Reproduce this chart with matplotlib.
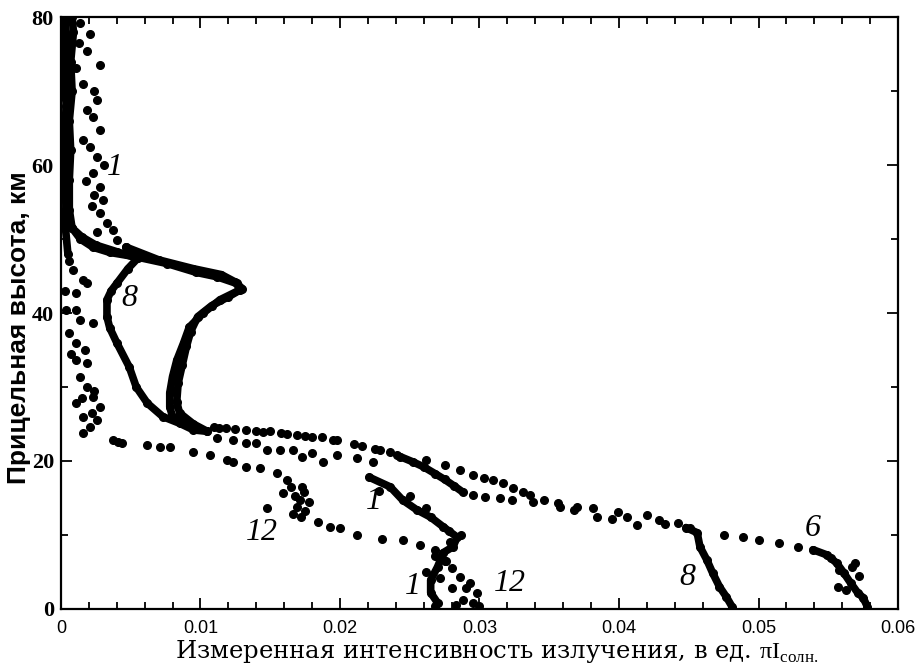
import numpy as np
import matplotlib
matplotlib.use('Agg')
import matplotlib.pyplot as plt
from matplotlib.ticker import MultipleLocator

plt.rcParams['font.family'] = ['Liberation Serif', 'DejaVu Serif']
plt.rcParams['mathtext.fontset'] = 'custom'
plt.rcParams['mathtext.rm'] = 'Liberation Serif'

# ---- data ----
# curve 1
c1_top_x = [0.0014, 0.0021, 0.0013, 0.0019, 0.0011, 0.0028, 0.0016, 0.0024, 0.0026, 0.0019,
            0.0023, 0.0028, 0.0016, 0.0021, 0.0026, 0.0031, 0.0023, 0.0018, 0.0028, 0.0024,
            0.0030, 0.0022, 0.0028, 0.0033, 0.0026, 0.0037, 0.0040, 0.0047]
c1_top_y = [79.2, 77.8, 76.5, 75.5, 73.2, 73.5, 71.0, 70.0, 68.8, 67.5,
            66.5, 64.7, 63.4, 62.5, 61.1, 60.0, 58.9, 57.8, 57.0, 56.0,
            55.3, 54.5, 53.5, 52.2, 51.0, 51.2, 49.9, 48.9]
c1_bump_x = [0.0047, 0.0070, 0.0095, 0.0115, 0.0125, 0.0130, 0.0120, 0.0108, 0.0098, 0.0093,
             0.0090, 0.0087, 0.0084, 0.0083, 0.0085, 0.0095, 0.0105]
c1_bump_y = [48.9, 47.2, 46.0, 45.2, 44.2, 43.3, 42.2, 41.0, 39.5, 37.5,
             35.5, 33.0, 30.5, 28.0, 26.5, 25.0, 24.0]
c1_row_x = [0.0112, 0.0123, 0.0133, 0.0140, 0.0148, 0.0157, 0.0166, 0.0173, 0.0180, 0.0188,
            0.0198, 0.0212, 0.0224]
c1_row_y = [23.1, 22.8, 22.4, 22.4, 21.5, 21.5, 21.5, 20.5, 21.1, 19.9,
            20.8, 20.4, 19.9]
c1_drop_x = [0.0221, 0.0236, 0.0245, 0.0255, 0.0265, 0.0274, 0.0284, 0.0281, 0.0274, 0.0270,
             0.0265, 0.0265, 0.0270]
c1_drop_y = [17.8, 16.5, 14.7, 13.4, 12.4, 11.1, 9.7, 8.4, 7.6, 5.7,
             3.9, 2.2, 0.8]
c1_spread_x = [0.0228, 0.0250, 0.0262, 0.0278, 0.0287, 0.0279, 0.0268, 0.0276, 0.0262, 0.0272,
               0.0280, 0.0268]
c1_spread_y = [16.0, 15.2, 13.6, 10.5, 10.0, 9.0, 8.0, 6.5, 5.0, 4.2,
               2.8, 0.4]

# curve 6
c6_bottom_x = [0.0578, 0.0575, 0.0571, 0.0566, 0.0561, 0.0556, 0.0549, 0.0539]
c6_bottom_y = [0.3, 1.5, 2.2, 3.5, 4.9, 6.2, 7.3, 8.0]
c6_spread_x = [0.0558, 0.0567, 0.0557, 0.0563, 0.0572, 0.0569, 0.0552]
c6_spread_y = [5.2, 5.6, 3.0, 2.5, 4.4, 6.2, 6.9]
c6_row_x = [0.0528, 0.0515, 0.0500, 0.0489, 0.0475, 0.0451, 0.0442, 0.0429, 0.0420, 0.0406,
            0.0399, 0.0381, 0.0370, 0.0358, 0.0346, 0.0336, 0.0331, 0.0324, 0.0317, 0.0310,
            0.0303, 0.0295, 0.0286, 0.0275, 0.0262, 0.0241, 0.0229, 0.0216, 0.0198, 0.0187,
            0.0180, 0.0169, 0.0158, 0.0145, 0.0133, 0.0118, 0.0110]
c6_row_y = [8.4, 8.9, 9.3, 9.7, 10.0, 10.9, 11.6, 12.0, 12.7, 12.4,
            13.1, 13.6, 13.8, 13.8, 14.7, 15.4, 15.8, 16.4, 17.0, 17.4,
            17.7, 18.1, 18.8, 19.4, 20.1, 20.8, 21.5, 22.0, 22.8, 23.2,
            23.2, 23.5, 23.8, 23.9, 24.2, 24.5, 24.6]
c6_bump_x = [0.0088, 0.0080, 0.0078, 0.0078, 0.0080, 0.0083, 0.0088, 0.0092, 0.0102, 0.0114,
             0.0128, 0.0126, 0.0112, 0.0097, 0.0076, 0.0054, 0.0035, 0.0023, 0.0014, 0.0008,
             0.0006, 0.0006, 0.0007, 0.0006, 0.0008, 0.0007, 0.0009, 0.0008]
c6_bump_y = [25.1, 26.0, 27.3, 29.2, 31.4, 33.6, 36.0, 38.1, 40.0, 41.8,
             43.1, 44.0, 44.9, 45.5, 46.7, 47.6, 48.2, 48.9, 50.0, 51.5,
             54.0, 58.0, 62.0, 66.0, 70.0, 74.0, 78.0, 80.0]

# curve 8
c8_bottom_x = [0.0481, 0.0477, 0.0472, 0.0467, 0.0463, 0.0458, 0.0456, 0.0448]
c8_bottom_y = [0.3, 1.6, 3.0, 4.9, 6.6, 8.4, 10.3, 11.0]
c8_row_x = [0.0433, 0.0413, 0.0395, 0.0384, 0.0368, 0.0356, 0.0338, 0.0323, 0.0315, 0.0304,
            0.0295]
c8_row_y = [11.5, 11.4, 12.2, 12.4, 13.4, 14.3, 14.5, 14.7, 15.0, 15.1,
            15.4]
c8_diag_x = [0.0288, 0.0282, 0.0275, 0.0268, 0.0260, 0.0252, 0.0243]
c8_diag_y = [15.8, 16.6, 17.5, 18.3, 19.2, 19.9, 20.6]
c8_row2_x = [0.0236, 0.0225, 0.0210, 0.0195, 0.0175, 0.0162, 0.0150, 0.0140, 0.0125, 0.0113]
c8_row2_y = [21.2, 21.6, 22.3, 22.9, 23.4, 23.6, 24.0, 24.1, 24.3, 24.4]
c8_left_x = [0.0105, 0.0095, 0.0085, 0.0073, 0.0062, 0.0054, 0.0049, 0.0040, 0.0035, 0.0033,
             0.0033, 0.0036, 0.0040, 0.0048, 0.0055, 0.0040, 0.0025, 0.0015, 0.0008, 0.0004,
             0.0003, 0.0004, 0.0003, 0.0004, 0.0003, 0.0004, 0.0003]
c8_left_y = [24.0, 24.2, 25.1, 26.0, 27.8, 30.0, 32.7, 36.0, 38.0, 39.5,
             41.8, 43.0, 44.0, 46.0, 47.4, 48.3, 49.2, 50.3, 51.5, 53.0,
             57.0, 61.0, 65.0, 69.0, 73.0, 77.0, 80.0]

# curve 12
c12_top_x = [0.0002, 0.0003, 0.0002, 0.0004, 0.0003, 0.0002, 0.0004, 0.0003, 0.0005]
c12_top_y = [80, 76, 72, 68, 64, 60, 56, 52, 48]
c12_col_x = [0.0006, 0.0009, 0.0019, 0.0016, 0.0011, 0.0003, 0.0004, 0.0011, 0.0014, 0.0023,
             0.0006, 0.0011, 0.0017, 0.0007, 0.0011, 0.0019, 0.0014, 0.0019, 0.0024, 0.0023,
             0.0015, 0.0011, 0.0028, 0.0022, 0.0016, 0.0026, 0.0021, 0.0016]
c12_col_y = [47.0, 45.8, 44.0, 44.5, 42.7, 43.0, 40.4, 40.4, 39.0, 38.6,
             37.3, 36.0, 35.0, 34.5, 33.6, 33.2, 31.4, 30.0, 29.5, 28.7,
             28.5, 27.8, 27.3, 26.5, 26.0, 25.5, 24.6, 23.8]
c12_row_x = [0.0037, 0.0041, 0.0044, 0.0062, 0.0071, 0.0078, 0.0095, 0.0107, 0.0119, 0.0123,
             0.0133, 0.0143, 0.0155, 0.0162, 0.0173, 0.0159, 0.0165, 0.0168, 0.0171, 0.0174,
             0.0169, 0.0175, 0.0166, 0.0172, 0.0178, 0.0148, 0.0184, 0.0193, 0.0200, 0.0212,
             0.0230, 0.0245, 0.0257]
c12_row_y = [22.8, 22.6, 22.4, 22.2, 21.9, 21.9, 21.2, 20.8, 20.1, 19.8,
             19.2, 19.0, 18.4, 17.4, 16.5, 15.7, 16.5, 15.2, 14.7, 15.8,
             13.8, 13.2, 12.8, 12.4, 14.5, 13.6, 11.8, 11.1, 10.9, 10.0,
             9.5, 9.3, 8.6]
c12_end_x = [0.0268, 0.0275, 0.0280, 0.0286, 0.0293, 0.0290, 0.0298, 0.0288, 0.0295, 0.0283,
             0.0300]
c12_end_y = [7.2, 6.5, 5.5, 4.3, 3.5, 2.8, 2.2, 1.2, 0.8, 0.5,
             0.4]

# curve labels
label_text = ['1', '8', '1', '12', '1', '12', '8', '6']
label_x = [0.0039, 0.0049, 0.0224, 0.0144, 0.0252, 0.0322, 0.0449, 0.0539]
label_y = [59.7, 42.0, 14.5, 10.3, 3.0, 3.5, 4.3, 10.9]

x_ticks = [0, 0.01, 0.02, 0.03, 0.04, 0.05, 0.06]
x_tick_labels = ['0', '0.01', '0.02', '0.03', '0.04', '0.05', '0.06']
y_ticks = [0, 20, 40, 60, 80]
y_tick_labels = ['0', '20', '40', '60', '80']

# ---- plot ----
fig = plt.figure(figsize=(9.23, 6.64), dpi=100)
ax = fig.add_axes([0.066, 0.083, 0.907, 0.891])

dense = dict(color='black', lw=5.5, marker='o', ms=5.5, solid_capstyle='round',
             solid_joinstyle='round')
sparse = dict(color='black', ls='none', marker='o', ms=5.5)

# dense parts
for xs, ys in [(c1_bump_x, c1_bump_y), (c1_drop_x, c1_drop_y),
               (c6_bottom_x, c6_bottom_y), (c6_bump_x, c6_bump_y),
               (c8_bottom_x, c8_bottom_y), (c8_diag_x, c8_diag_y), (c8_left_x, c8_left_y),
               (c12_top_x, c12_top_y)]:
    ax.plot(xs, ys, **dense)

# scattered parts
for xs, ys in [(c1_top_x, c1_top_y), (c1_row_x, c1_row_y), (c1_spread_x, c1_spread_y),
               (c6_spread_x, c6_spread_y), (c6_row_x, c6_row_y),
               (c8_row_x, c8_row_y), (c8_row2_x, c8_row2_y),
               (c12_col_x, c12_col_y), (c12_row_x, c12_row_y), (c12_end_x, c12_end_y)]:
    ax.plot(xs, ys, **sparse)

for t, x, y in zip(label_text, label_x, label_y):
    ax.text(x, y, t, fontsize=23, style='italic', ha='center', va='center',
            family='Liberation Serif')

ax.set_xlim(0, 0.06)
ax.set_ylim(0, 80)
ax.set_xticks(x_ticks)
ax.set_xticklabels(x_tick_labels, family='Liberation Sans', fontsize=13)
ax.set_yticks(y_ticks)
ax.set_yticklabels(y_tick_labels, family='Liberation Serif', fontsize=16, weight='bold')
ax.xaxis.set_minor_locator(MultipleLocator(0.002))
ax.yaxis.set_minor_locator(MultipleLocator(10))
ax.tick_params(which='both', direction='in', top=True, right=True, width=1.3)
ax.tick_params(which='major', length=8)
ax.tick_params(which='minor', length=5)
ax.tick_params(axis='x', pad=8)
ax.tick_params(axis='y', pad=5)
for s in ax.spines.values():
    s.set_linewidth(1.6)

ax.set_xlabel('Измеренная интенсивность излучения, в ед. $\\mathrm{\\pi I}_{\\mathrm{солн.}}$',
              fontsize=17.5, family='DejaVu Serif')
ax.xaxis.set_label_coords(0.52, -0.05)
ax.set_ylabel('Прицельная высота, км', fontsize=19, weight='bold', family='Liberation Sans')
ax.yaxis.set_label_coords(-0.036, 0.476)

fig.savefig('out.png', dpi=100)
